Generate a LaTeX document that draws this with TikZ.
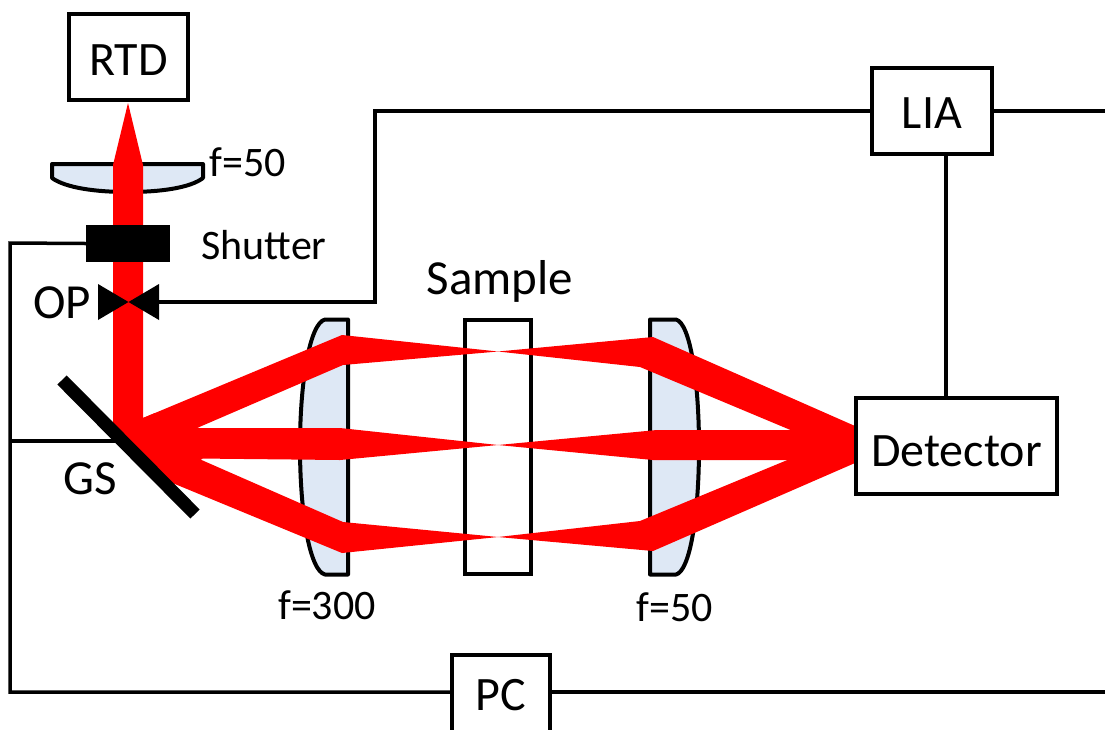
\documentclass[tikz,border=0pt]{standalone}
\usepackage{fontspec}
\setmainfont{Carlito}
\newcommand{\fs}[1]{\fontsize{#1}{#1}\selectfont}
\definecolor{lensblue}{HTML}{DEE8F5}
\definecolor{beamred}{HTML}{FF0000}
\tikzset{
  boxnode/.style={draw=black,line width=4pt,fill=white,inner sep=0pt,font=\fs{48},text depth=0pt},
  wire/.style={draw=black,line width=3.5pt,line join=miter},
  lensbody/.style={draw=black,line width=4pt,fill=lensblue,line join=round},
  beam/.style={fill=beamred,draw=none},
  lbl/.style={inner sep=0pt,font=\fs{42}},
  biglbl/.style={inner sep=0pt,font=\fs{49}},
}
\begin{document}
\begin{tikzpicture}[x=1pt,y=-1pt]
\useasboundingbox (0,0) rectangle (1105,729);
\clip (0,0) rectangle (1105,729);
% lenses and sample
\draw[lensbody] (52,164) -- (203,164) -- (203,178) .. controls (190,188) and (160,192) .. (128,192) .. controls (96,192) and (66,188) .. (52,178) -- cycle;
\draw[lensbody] (348,319.5) -- (325,319.5) .. controls (310,323) and (300,380) .. (300,447) .. controls (300,515) and (310,571) .. (325,574.5) -- (348,574.5) -- cycle;
\draw[lensbody] (650,319.5) -- (676,319.5) .. controls (690,323) and (699,380) .. (699,447) .. controls (699,515) and (690,571) .. (676,574.5) -- (650,574.5) -- cycle;
\node[draw=black,line width=4pt,fill=white,minimum width=66pt,minimum height=254pt,inner sep=0pt] (sample) at (498,447) {};
% beams
\fill[beam] (143,418) -- (342,335) -- (498,351.5) -- (653,337) -- (855,426) -- (855,457) -- (640,367) -- (498,351.5) -- (343,365) -- (197,428) -- cycle;
\fill[beam] (150,428) -- (340,428) -- (498,445) -- (657,430) -- (855,430) -- (855,460) -- (653,460) -- (498,445) -- (340,460) -- (150,458) -- cycle;
\fill[beam] (170,482) -- (342,553) -- (498,537) -- (653,551) -- (855,463) -- (855,432) -- (640,521) -- (498,537) -- (343,522) -- (197,458) -- cycle;
\fill[beam] (113,165) -- (128,103) -- (143,165) -- (143,418) -- (155,413) -- (205,430) -- (205,456) -- (190,470) -- (170,482) -- (113,424) -- cycle;
% boxes
\node[boxnode,text height=36pt,minimum width=119pt,minimum height=86pt] (rtd) at (128.5,57) {RTD};
\node[boxnode,text height=35pt,minimum width=120pt,minimum height=86pt] (lia) at (932,111) {LIA};
\node[boxnode,text height=40pt,minimum width=201pt,minimum height=96pt] (det) at (956.5,446) {Detector};
\node[boxnode,text height=32pt,minimum width=98pt,minimum height=78pt] (pc) at (501,694) {PC};
\node[fill=black,minimum width=84pt,minimum height=37pt,inner sep=0pt] (shutter) at (128,243.5) {};
% optical pick-up
\coordinate (opc) at (128.5,302);
\fill[black] (98,284) -- (98,320) -- (opc) -- cycle;
\fill[black] (159,284) -- (159,320) -- (opc) -- cycle;
\coordinate (opr) at (159,302);
% junctions
\coordinate (railtop) at (10,243);
\coordinate (railbot) at (10,692);
\coordinate (gsjoin) at (10,441);
\coordinate (gshit) at (118,441);
\coordinate (bend) at (375,302);
\coordinate (rightA) at (1105,111);
\coordinate (rightB) at (1105,692);
\coordinate (liadrop) at (946,155);
% mirror
\coordinate (gsa) at (62,380);
\coordinate (gsb) at (195,514);
\draw[wire] (gsjoin) -- (gshit);
\draw[black,line width=13pt] (gsa) -- (gsb);
% wires
\draw[wire] (shutter.west) -- (railtop) -- (railbot) -- (railbot -| pc.west);
\draw[wire] (opr) -- (bend) -- (bend |- lia.west) -- (lia.west);
\draw[wire] (lia.east) -- (rightA);
\draw[wire] (liadrop) -- (liadrop |- det.north);
\draw[wire] (railbot -| pc.east) -- (rightB);
% labels
\node[lbl] (f50a) at (248,162) {f=50};
\node[lbl] (shuttertext) at (264,245) {Shutter};
\node[biglbl] (samplelbl) at (500,281) {Sample};
\node[biglbl] (oplbl) at (62,303) {OP};
\node[biglbl] (gslbl) at (90,479) {GS};
\node[lbl] (f300) at (327,605) {f=300};
\node[lbl] (f50b) at (675,607) {f=50};
\end{tikzpicture}
\end{document}
